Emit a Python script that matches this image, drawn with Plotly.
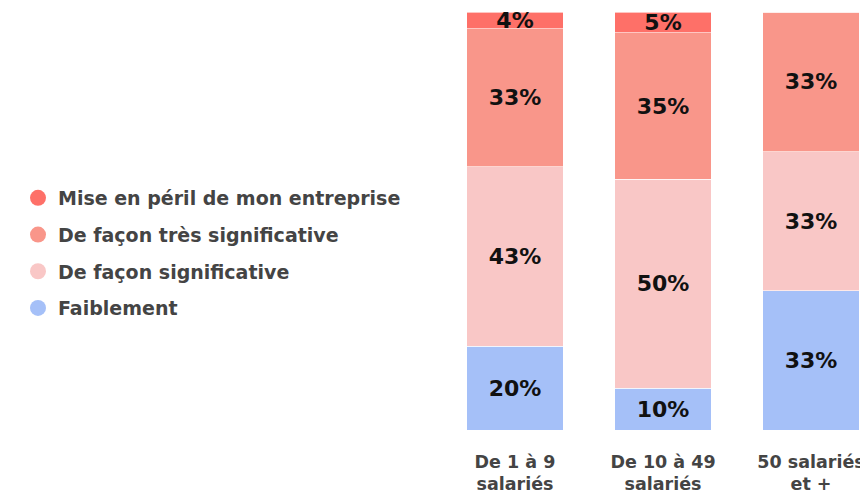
import plotly.graph_objects as go

categories = ["De 1 à 9<br>salariés", "De 10 à 49<br>salariés", "50 salariés<br>et +"]
series_names = ["Faiblement", "De façon significative", "De façon très significative", "Mise en péril de mon entreprise"]
faiblement = [20, 10, 33.3]
significative = [43, 50, 33.3]
tres_significative = [33, 35, 33.4]
peril = [4, 5, 0]
colors = ["#a5c0f8", "#f9c7c6", "#f9968a", "#fe7068"]

series_values = [faiblement, significative, tres_significative, peril]

FONT = "DejaVu Sans, Liberation Sans, Arial, sans-serif"

fig = go.Figure()
for name, vals, col in zip(series_names, series_values, colors):
    fig.add_trace(go.Bar(
        x=categories, y=vals, name=name,
        marker=dict(color=col, line=dict(width=1, color="rgba(255,255,255,0.6)")),
        text=[f"{round(v)}%" if v else "" for v in vals],
        textposition="inside", insidetextanchor="middle",
        constraintext="none",
        textfont=dict(family=FONT, size=22, color="#111111", weight="bold"),
        showlegend=False, hoverinfo="skip",
    ))

# legend entries (circles), top to bottom
for i, (name, col) in enumerate(reversed(list(zip(series_names, colors)))):
    fig.add_trace(go.Scatter(
        x=[None], y=[None], mode="markers", name=name,
        marker=dict(symbol="circle", size=16, color=col),
        legendgroup=f"g{i}", showlegend=True,
    ))

W, H = 860, 489  # page body adds an 8px offset
fig.update_layout(
    width=W, height=H,
    barmode="stack", bargap=0.35,
    margin=dict(l=433, r=0, t=4, b=67),
    paper_bgcolor="white", plot_bgcolor="white",
    xaxis=dict(range=[-0.5, 2.385], showgrid=False, zeroline=False, showline=False,
               ticks="", ticklabelstandoff=19, automargin=False,
               tickfont=dict(family=FONT, size=17.5, color="#444444", weight="bold")),
    yaxis=dict(range=[0, 100], visible=False, fixedrange=True),
    legend=dict(
        xref="container", yref="container", x=10 / W, y=1 - 245 / H,
        xanchor="left", yanchor="middle",
        traceorder="grouped", tracegroupgap=9,
        font=dict(family=FONT, size=19, color="#444444", weight="bold"),
        itemsizing="trace",
    ),
)

fig.write_html("out.html")
